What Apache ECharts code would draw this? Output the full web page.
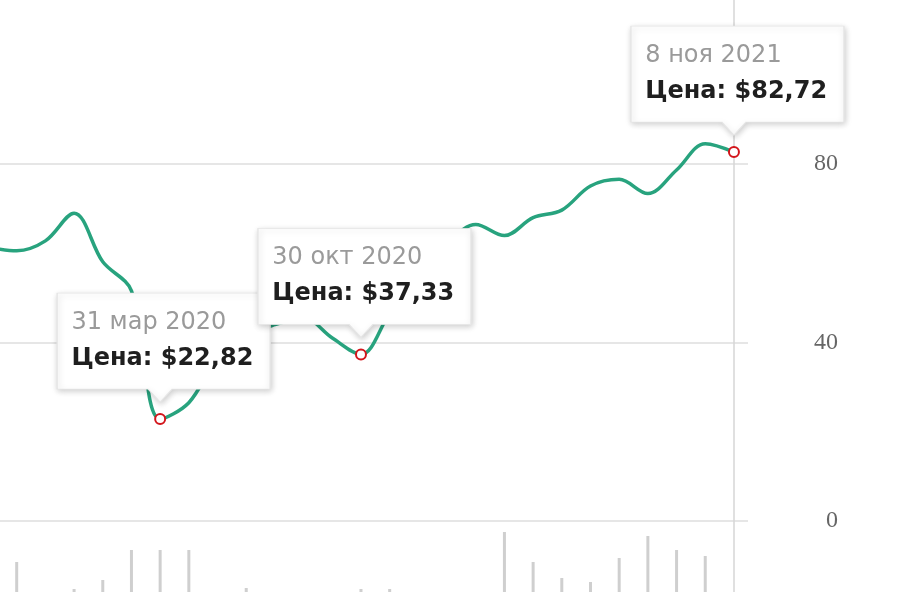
<!DOCTYPE html>
<html>
<head>
<meta charset="utf-8">
<script src="https://cdn.jsdelivr.net/npm/echarts@6/dist/echarts.min.js"></script>
<style>
  html, body { margin: 0; padding: 0; background: #fff; }
  #chart { width: 900px; height: 600px; }
</style>
</head>
<body>
<div id="chart"></div>
<script>
const categories = ['сен 2019','окт 2019','ноя 2019','дек 2019','янв 2020','фев 2020','мар 2020','апр 2020','май 2020','июн 2020','июл 2020','авг 2020','сен 2020','окт 2020','ноя 2020','дек 2020','янв 2021','фев 2021','мар 2021','апр 2021','май 2021','июн 2021','июл 2021','авг 2021','сен 2021','окт 2021','8 ноя 2021'];
const prices = [61.4, 60.6, 62.8, 69.0, 58.1, 51.6, 22.82, 26.5, 36.5, 41.5, 44.0, 45.5, 41.0, 37.33, 46.5, 54.5, 62.0, 66.5, 64.0, 68.0, 69.7, 75.1, 76.6, 73.4, 78.7, 84.6, 82.72];
const volumes = [0, 30, 0, 3, 12, 42, 42, 42, 0, 4, 0, 0, 0, 3, 3, 0, 0, 0, 60, 30, 14, 10, 34, 56, 42, 36, 0];
const yTicks = [0, 40, 80];
const highlights = [
  { index: 6, date: '31 мар 2020' },
  { index: 13, date: '30 окт 2020' },
  { index: 26, date: '8 ноя 2021' }
];

const lastIndex = categories.length - 1;
const fmtPrice = v => v.toFixed(2).replace('.', ',');
const calloutPath = 'path://M0,0 L213,0 L213,96 L115,96 L103,109 L91,96 L0,96 Z';
const FONT = 'DejaVu Sans';

const callouts = highlights.map(h => ({
  coord: [h.index, prices[h.index]],
  symbol: calloutPath,
  symbolSize: [213, 109],
  symbolOffset: [3.5, -71.5],
  itemStyle: {
    color: '#ffffff',
    borderColor: '#e6e6e6',
    borderWidth: 1,
    shadowBlur: 6,
    shadowColor: 'rgba(0,0,0,0.2)',
    shadowOffsetX: 1,
    shadowOffsetY: 2
  },
  label: {
    show: true,
    position: [15, 12],
    align: 'left',
    verticalAlign: 'top',
    formatter: '{d|' + h.date + '}\n{p|Цена: $' + fmtPrice(prices[h.index]) + '}',
    rich: {
      d: { fontFamily: FONT, fontSize: 24, fontWeight: 'normal', color: '#9a9a9a', lineHeight: 36 },
      p: { fontFamily: FONT, fontSize: 24, fontWeight: 'bold', color: '#1f1f1f', lineHeight: 36 }
    }
  }
}));
const circles = highlights.map(h => ({
  coord: [h.index, prices[h.index]],
  symbol: 'circle',
  symbolSize: 10,
  symbolOffset: [0, 0],
  itemStyle: { color: '#ffffff', borderColor: '#d3151b', borderWidth: 2 },
  label: { show: false }
}));

const xMin = 0.418, xMax = 26.49;

const chart = echarts.init(document.getElementById('chart'), null, { renderer: 'canvas' });
chart.setOption({
  animation: false,
  grid: [
    { left: 0, right: 152, top: -14.1, bottom: 79.2, outerBoundsMode: 'none', containLabel: false },
    { left: 0, right: 152, top: 0, bottom: 8, outerBoundsMode: 'none', containLabel: false }
  ],
  xAxis: [
    { type: 'value', gridIndex: 0, min: xMin, max: xMax, show: false },
    { type: 'value', gridIndex: 1, min: xMin, max: xMax, show: false }
  ],
  yAxis: [
    {
      type: 'value', gridIndex: 0, position: 'right', min: 0, max: 120, interval: 40,
      axisLine: { show: false }, axisTick: { show: false },
      splitLine: { lineStyle: { color: '#e6e6e6', width: 2 } },
      axisLabel: {
        align: 'right', margin: 90, fontFamily: 'Liberation Serif', fontSize: 24, color: '#666',
        formatter: v => (yTicks.indexOf(v) >= 0 ? String(v) : '')
      }
    },
    { type: 'value', gridIndex: 1, min: 0, max: 592, show: false }
  ],
  series: [
    {
      type: 'bar', xAxisIndex: 1, yAxisIndex: 1,
      data: volumes.map((v, i) => [i, v]),
      barWidth: 3,
      itemStyle: { color: '#cfcfcf' },
      silent: true,
      markLine: {
        silent: true, symbol: 'none', z: 1,
        label: { show: false },
        lineStyle: { color: '#d6d6d6', width: 1.5, type: 'solid' },
        data: [{ xAxis: lastIndex }]
      }
    },
    {
      type: 'line', xAxisIndex: 0, yAxisIndex: 0, z: 3,
      data: prices.map((v, i) => [i, v]),
      smooth: 0.35,
      showSymbol: false,
      lineStyle: { color: '#28a37e', width: 3.5 },
      markPoint: {
        z: 10,
        data: callouts.concat(circles)
      }
    }
  ]
});
</script>
</body>
</html>
